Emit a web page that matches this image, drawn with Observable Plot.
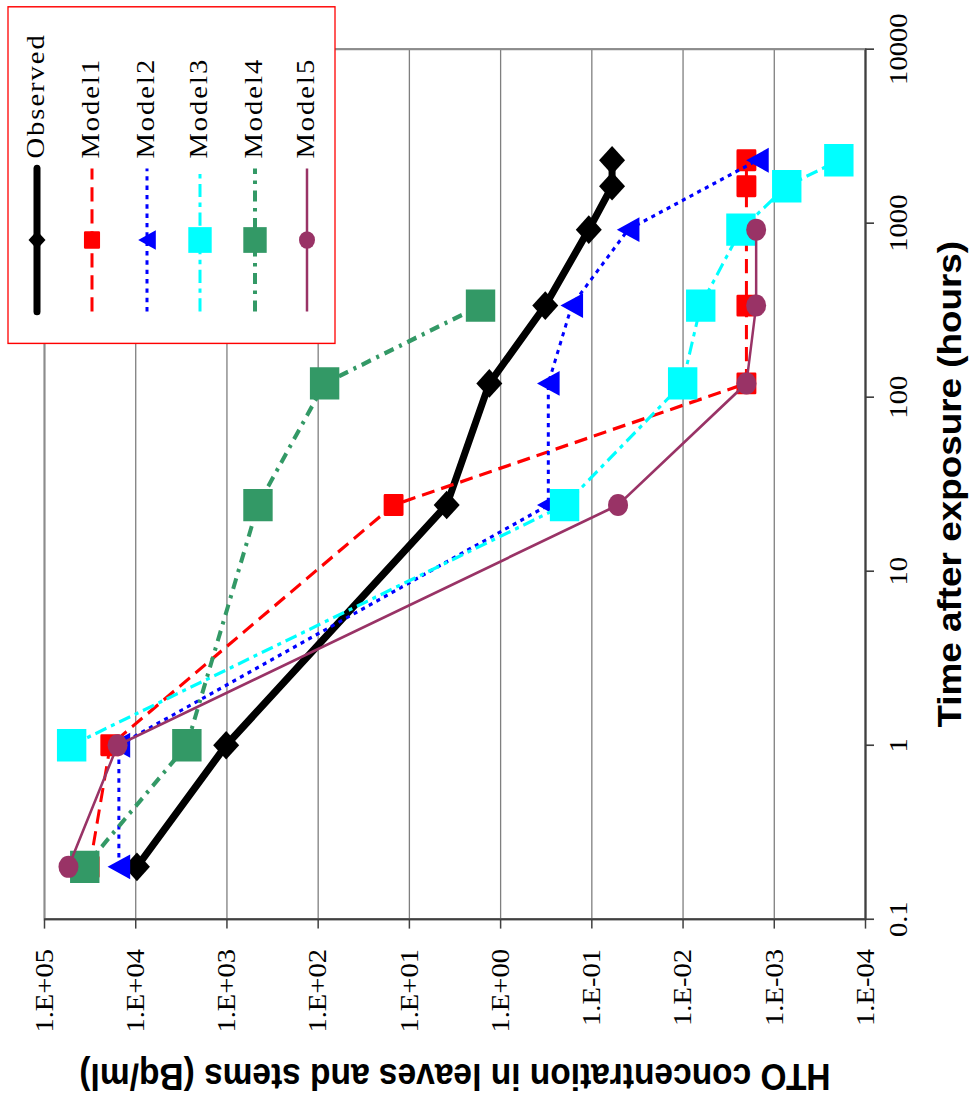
<!DOCTYPE html>
<html>
<head>
<meta charset="utf-8">
<script src="https://cdn.jsdelivr.net/npm/d3@7"></script>
<script src="https://cdn.jsdelivr.net/npm/@observablehq/plot@0.6"></script>
<style>
  html, body { margin: 0; padding: 0; background: #ffffff; overflow: hidden; }
  #wrap {
    position: absolute; left: 0; top: 0;
    width: 998px; height: 973px;
    transform-origin: 0 0;
    transform: translate(0px, 1098px) rotate(-90deg) scaleX(1.1);
  }
</style>
</head>
<body>
<div id="wrap"></div>
<script>
// ---------------- data ----------------
const seriesNames = ["Observed", "Model1", "Model2", "Model3", "Model4", "Model5"];

const observedTime = [0.2, 1, 24, 120, 336, 918, 1630, 2300];
const observedConc = [9700, 1020, 3.9, 1.33, 0.324, 0.108, 0.060, 0.060];

const model1Time = [0.2, 1, 24, 120, 336, 918, 1630, 2300];
const model1Conc = [32000, 19000, 14.9, 0.00202, 0.00202, 0.00202, 0.00202, 0.00202];

const model2Time = [0.2, 1, 24, 120, 336, 918, 2300];
const model2Conc = [15300, 15300, 0.30, 0.30, 0.166, 0.040, 0.00153];

const model3Time = [1, 24, 120, 336, 918, 1630, 2300];
const model3Conc = [50400, 0.199, 0.0101, 0.0064, 0.00232, 0.00073, 0.000196];

const model4Time = [0.2, 1, 24, 120, 336];
const model4Conc = [36200, 2750, 457, 85, 1.66];

const model5Time = [0.2, 1, 24, 120, 336, 918];
const model5Conc = [54600, 15800, 0.0516, 0.00202, 0.00158, 0.00158];

const concTicks = [1e5, 1e4, 1e3, 1e2, 1e1, 1e0, 1e-1, 1e-2, 1e-3, 1e-4];
const concLabels = ["1.E+05", "1.E+04", "1.E+03", "1.E+02", "1.E+01", "1.E+00", "1.E-01", "1.E-02", "1.E-03", "1.E-04"];
const timeTicks = [0.1, 1, 10, 100, 1000, 10000];
const timeLabels = ["0.1", "1", "10", "100", "1000", "10000"];

const xTitle = "Time after exposure (hours)";
const yTitle = "HTO concentration in leaves and stems (Bq/ml)";

// ---------------- symbols & styles ----------------
const rOf = size => Math.sqrt(size / Math.PI);
const diamondSym = { draw(c, size) { const r = rOf(size); c.moveTo(0, -r); c.lineTo(r, 0); c.lineTo(0, r); c.lineTo(-r, 0); c.closePath(); } };
const squareSym = { draw(c, size) { const r = rOf(size); c.moveTo(-r, -r); c.lineTo(r, -r); c.lineTo(r, r); c.lineTo(-r, r); c.closePath(); } };
const triSym = { draw(c, size) { const r = rOf(size); c.moveTo(0, -r); c.lineTo(r, r); c.lineTo(-r, r); c.closePath(); } };
const circleSym = { draw(c, size) { const r = rOf(size); c.moveTo(r, 0); c.arc(0, 0, r, 0, 2 * Math.PI); c.closePath(); } };

const styles = [
  { color: "#000000", width: 7,   dash: null,        sym: diamondSym, r: 13,   lr: 8.5, sw: 0 },
  { color: "#ff0000", width: 3,   dash: "13,7",      sym: squareSym,  r: 8.7,  lr: 6.8, sw: 2.5 },
  { color: "#0000ff", width: 3,   dash: "4,4.5",     sym: triSym,     r: 11.3, lr: 8.8, sw: 0 },
  { color: "#00ffff", width: 3,   dash: "12,5,4,5",  sym: squareSym,  r: 14.7, lr: 11.7, sw: 0 },
  { color: "#339966", width: 4,   dash: "10,6,3,6",  sym: squareSym,  r: 14.7, lr: 11.7, sw: 0 },
  { color: "#993366", width: 2.5, dash: null,        sym: circleSym,  r: 10,   lr: 8,   sw: 0 }
];

const seriesTimes = [observedTime, model1Time, model2Time, model3Time, model4Time, model5Time];
const seriesConcs = [observedConc, model1Conc, model2Conc, model3Conc, model4Conc, model5Conc];
const seriesData = seriesNames.map((name, k) =>
  seriesTimes[k].map((t, i) => ({ series: name, t, c: seriesConcs[k][i] })));

// ---------------- chart (drawn unrotated, rotated by CSS) ----------------
const serifFont = "'Liberation Serif', 'Times New Roman', serif";
const sansFont = "'Liberation Sans', Arial, sans-serif";

const seriesMarks = seriesData.flatMap((data, k) => {
  const s = styles[k];
  return [
    Plot.line(data, {
      x: "t", y: "c", stroke: s.color, strokeWidth: s.width,
      strokeDasharray: s.dash || undefined, strokeLinejoin: "round", strokeLinecap: "butt"
    }),
    Plot.dot(data, {
      x: "t", y: "c", symbol: s.sym, r: s.r, fill: s.color,
      stroke: s.sw ? s.color : "none", strokeWidth: s.sw || undefined, strokeLinejoin: "round"
    })
  ];
});

const chart = Plot.plot({
  width: 998,
  height: 973,
  marginLeft: 162,
  marginRight: 45,
  marginTop: 44,
  marginBottom: 108,
  style: { fontFamily: serifFont, background: "#ffffff", overflow: "visible", color: "#000000" },
  x: { type: "log", domain: [0.1, 10000] },
  y: { type: "log", domain: [1e-4, 1e5] },
  marks: [
    Plot.gridY(concTicks, { stroke: "#7f7f7f", strokeOpacity: 1, strokeWidth: 1.3 }),
    Plot.frame({ stroke: "#8c8c8c", strokeWidth: 2 }),
    Plot.ruleY([1e-4], { stroke: "#404040", strokeWidth: 2 }),
    Plot.ruleX([0.1], { stroke: "#404040", strokeWidth: 2 }),
    Plot.axisX({
      ticks: timeTicks, tickFormat: d => timeLabels[timeTicks.indexOf(d)],
      tickSize: 9, tickPadding: 14, fontSize: 26, fontFamily: serifFont,
      label: null, stroke: "#404040", strokeWidth: 1.5
    }),
    Plot.axisY({
      ticks: concTicks, tickFormat: d => concLabels[concTicks.indexOf(d)],
      tickSize: 8, tickPadding: 19, fontSize: 26, fontFamily: serifFont,
      label: null, stroke: "#404040", strokeWidth: 1.5
    }),
    ...seriesMarks,
    Plot.text([xTitle], {
      text: d => d, frameAnchor: "bottom", dy: 85, lineAnchor: "middle", textAnchor: "middle",
      fontSize: 33.5, fontWeight: "bold", fontFamily: sansFont, fill: "#000000"
    }),
    Plot.text([yTitle], {
      text: d => d, frameAnchor: "left", dx: -142, rotate: -90, lineAnchor: "middle", textAnchor: "middle",
      fontSize: 33.5, fontWeight: "bold", fontFamily: sansFont, fill: "#000000"
    })
  ]
});

// ---------------- legend (inside the same SVG) ----------------
const svg = d3.select(chart);
const lg = svg.append("g").attr("class", "legend").attr("text-anchor", "start");
lg.append("rect")
  .attr("x", 686).attr("y", 8).attr("width", 306).attr("height", 327)
  .attr("fill", "#ffffff").attr("stroke", "#ff0000").attr("stroke-width", 1.3);
const rowY = [37, 92, 147, 200, 255, 307];
seriesNames.forEach((name, k) => {
  const s = styles[k];
  const y = rowY[k];
  lg.append("line")
    .attr("x1", 715).attr("x2", 845).attr("y1", y).attr("y2", y)
    .attr("stroke", s.color).attr("stroke-width", s.width)
    .attr("stroke-dasharray", s.dash)
    .attr("stroke-linecap", k === 0 ? "round" : "butt");
  lg.append("path")
    .attr("transform", `translate(780,${y})`)
    .attr("d", d3.symbol(s.sym, Math.PI * s.lr * s.lr)())
    .attr("fill", s.color)
    .attr("stroke", s.sw ? s.color : "none")
    .attr("stroke-width", s.sw || null)
    .attr("stroke-linejoin", "round");
  lg.append("text")
    .attr("x", 854).attr("y", y + 7)
    .attr("text-anchor", "start")
    .attr("font-family", serifFont).attr("font-size", 26)
    .attr("letter-spacing", 1.8)
    .attr("fill", "#000000")
    .text(name);
});

document.getElementById("wrap").appendChild(chart);
</script>
</body>
</html>
